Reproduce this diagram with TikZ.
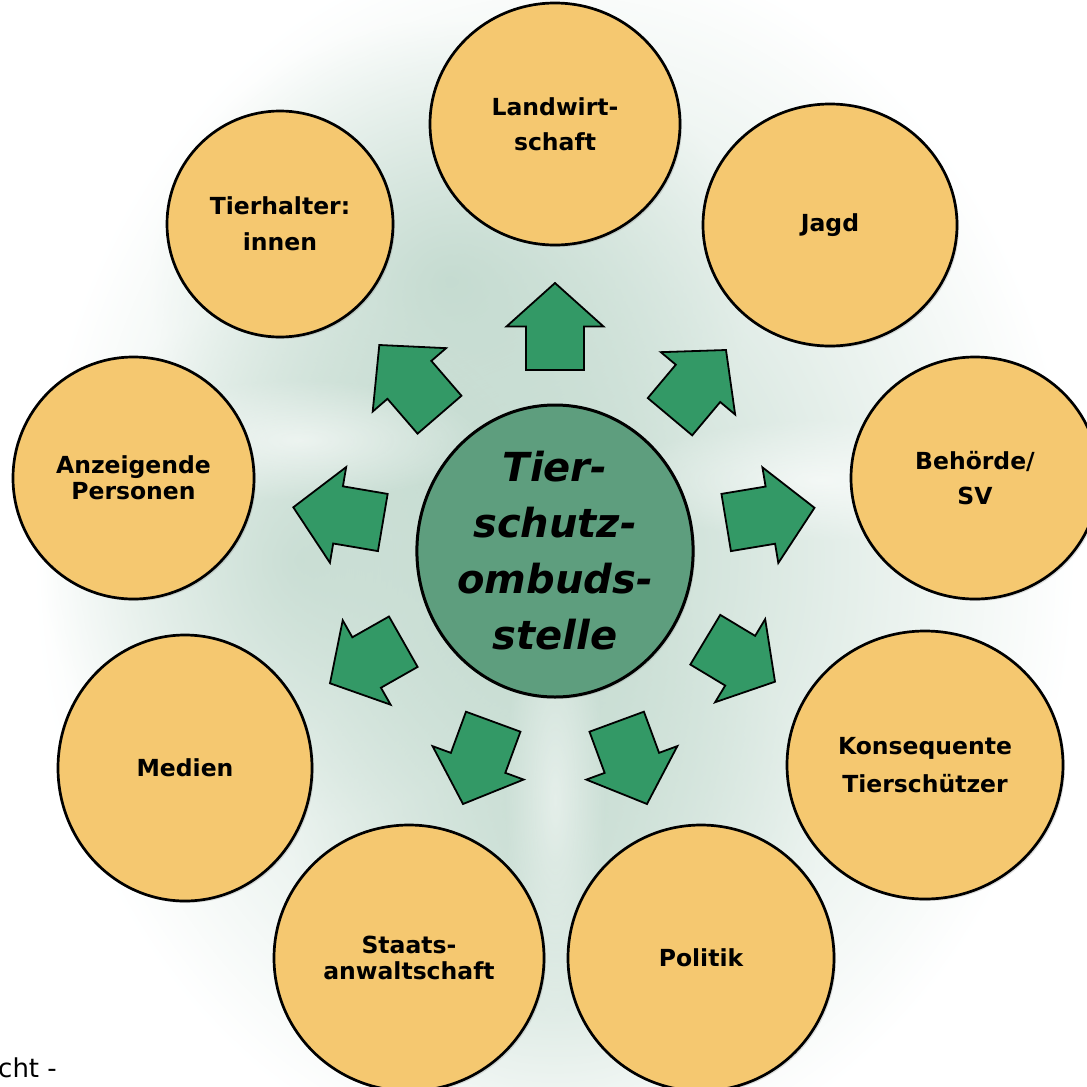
\documentclass[tikz,border=0pt]{standalone}
\usepackage{fontspec}
\setmainfont{DejaVu Sans}
\usetikzlibrary{calc,fadings,shapes.geometric,shadows}
\definecolor{circfill}{HTML}{F5C870}
\definecolor{arrowgreen}{HTML}{339966}
\definecolor{centergreen}{HTML}{5E9E7E}
\definecolor{haze}{HTML}{B3D0C2}
\tikzfading[name=softfade, inner color=transparent!0, outer color=transparent!100]
\newcommand{\blockarrow}[2]{%
  \coordinate (#1h) at ($(#1)!0.5!(#2)$);
  \draw[arrowstyle] ($(#1)!29pt!90:(#2)$) -- ($(#1h)!29pt!90:(#2)$) -- ($(#1h)!48.5pt!90:(#2)$)
    -- (#2) -- ($(#1h)!48.5pt!-90:(#2)$) -- ($(#1h)!29pt!-90:(#2)$) -- ($(#1)!29pt!-90:(#2)$) -- cycle;}
\begin{document}
\begin{tikzpicture}[x=1pt,y=-1pt,
  outer/.style={ellipse, draw=black, line width=2.7pt, fill=circfill, inner sep=0pt, align=center,
    drop shadow={opacity=0.25, shadow xshift=2pt, shadow yshift=-2pt}},
  lbl/.style={font=\bfseries\fontsize{23.5}{#1}\selectfont},
  arrowstyle/.style={fill=arrowgreen, draw=black, line width=1.8pt, line join=miter},
  hub/.style={ellipse, draw=black, line width=3pt, fill=centergreen, inner sep=0pt, align=center,
    font=\bfseries\itshape\fontsize{40}{56}\selectfont,
    drop shadow={opacity=0.25, shadow xshift=2pt, shadow yshift=-2pt}}]
\useasboundingbox (0,0) rectangle (1087,1087);
% background haze
\fill[haze, opacity=0.8, path fading=softfade] (555,560) ellipse [x radius=520pt, y radius=620pt];
\fill[haze, opacity=0.6, path fading=softfade] (450,280) ellipse [x radius=300pt, y radius=260pt];
\fill[haze, opacity=0.5, path fading=softfade] (555,860) ellipse [x radius=260pt, y radius=300pt];
\fill[haze, opacity=0.5, path fading=softfade] (300,560) ellipse [x radius=260pt, y radius=260pt];
\fill[white, opacity=0.6, path fading=softfade] (300,440) ellipse [x radius=180pt, y radius=60pt];
\fill[white, opacity=0.6, path fading=softfade] (820,480) ellipse [x radius=200pt, y radius=60pt];
\fill[white, opacity=0.5, path fading=softfade] (555,800) ellipse [x radius=50pt, y radius=220pt];
% outer nodes
\node[outer, lbl=35, minimum width=250pt, minimum height=242pt] (landw) at (555,124) {Landwirt-\\schaft};
\node[outer, lbl=35, minimum width=254pt, minimum height=242pt] (jagd) at (830,225) {Jagd};
\node[outer, lbl=36, minimum width=226pt, minimum height=226pt] (tierh) at (280,224) {Tierhalter:\\innen};
\node[outer, lbl=35, minimum width=248pt, minimum height=242pt] (behoerde) at (975,478) {Behörde/\\SV};
\node[outer, lbl=26, minimum width=241pt, minimum height=242pt] (anz) at (133.5,478) {Anzeigende\\Personen};
\node[outer, lbl=38, minimum width=276pt, minimum height=268pt] (kons) at (925,765) {Konsequente\\Tierschützer};
\node[outer, lbl=35, minimum width=254pt, minimum height=266pt] (medien) at (185,768) {Medien};
\node[outer, lbl=26, minimum width=270pt, minimum height=266pt] (staats) at (409,958) {Staats-\\anwaltschaft};
\node[outer, lbl=35, minimum width=266pt, minimum height=266pt] (politik) at (701,958) {Politik};
% center
\node[hub, minimum width=276pt, minimum height=292pt] (hub) at (555,551) {Tier-\\schutz-\\ombuds-\\stelle};
% arrows
\coordinate (t1) at (555,370);     \coordinate (p1) at (555,283);
\coordinate (t2) at (439.5,414.7); \coordinate (p2) at (379.3,345);
\coordinate (t3) at (670,416.7);   \coordinate (p3) at (726,350);
\coordinate (t4) at (382.8,522.5); \coordinate (p4) at (293.3,507.3);
\coordinate (t5) at (726.2,522.5); \coordinate (p5) at (814.5,507.8);
\coordinate (t6) at (403.3,641.7); \coordinate (p6) at (330,683.3);
\coordinate (t7) at (705.3,639.7); \coordinate (p7) at (775,681.7);
\coordinate (t8) at (493.2,721.7); \coordinate (p8) at (463,804);
\coordinate (t9) at (616.7,721.7); \coordinate (p9) at (647,804);
\blockarrow{t1}{p1}
\blockarrow{t2}{p2}
\blockarrow{t3}{p3}
\blockarrow{t4}{p4}
\blockarrow{t5}{p5}
\blockarrow{t6}{p6}
\blockarrow{t7}{p7}
\blockarrow{t8}{p8}
\blockarrow{t9}{p9}
% cut-off text
\node[anchor=base west, inner sep=0pt, font=\fontsize{26}{30}\selectfont] (cut) at (-2,1077) {cht -};
\end{tikzpicture}
\end{document}
